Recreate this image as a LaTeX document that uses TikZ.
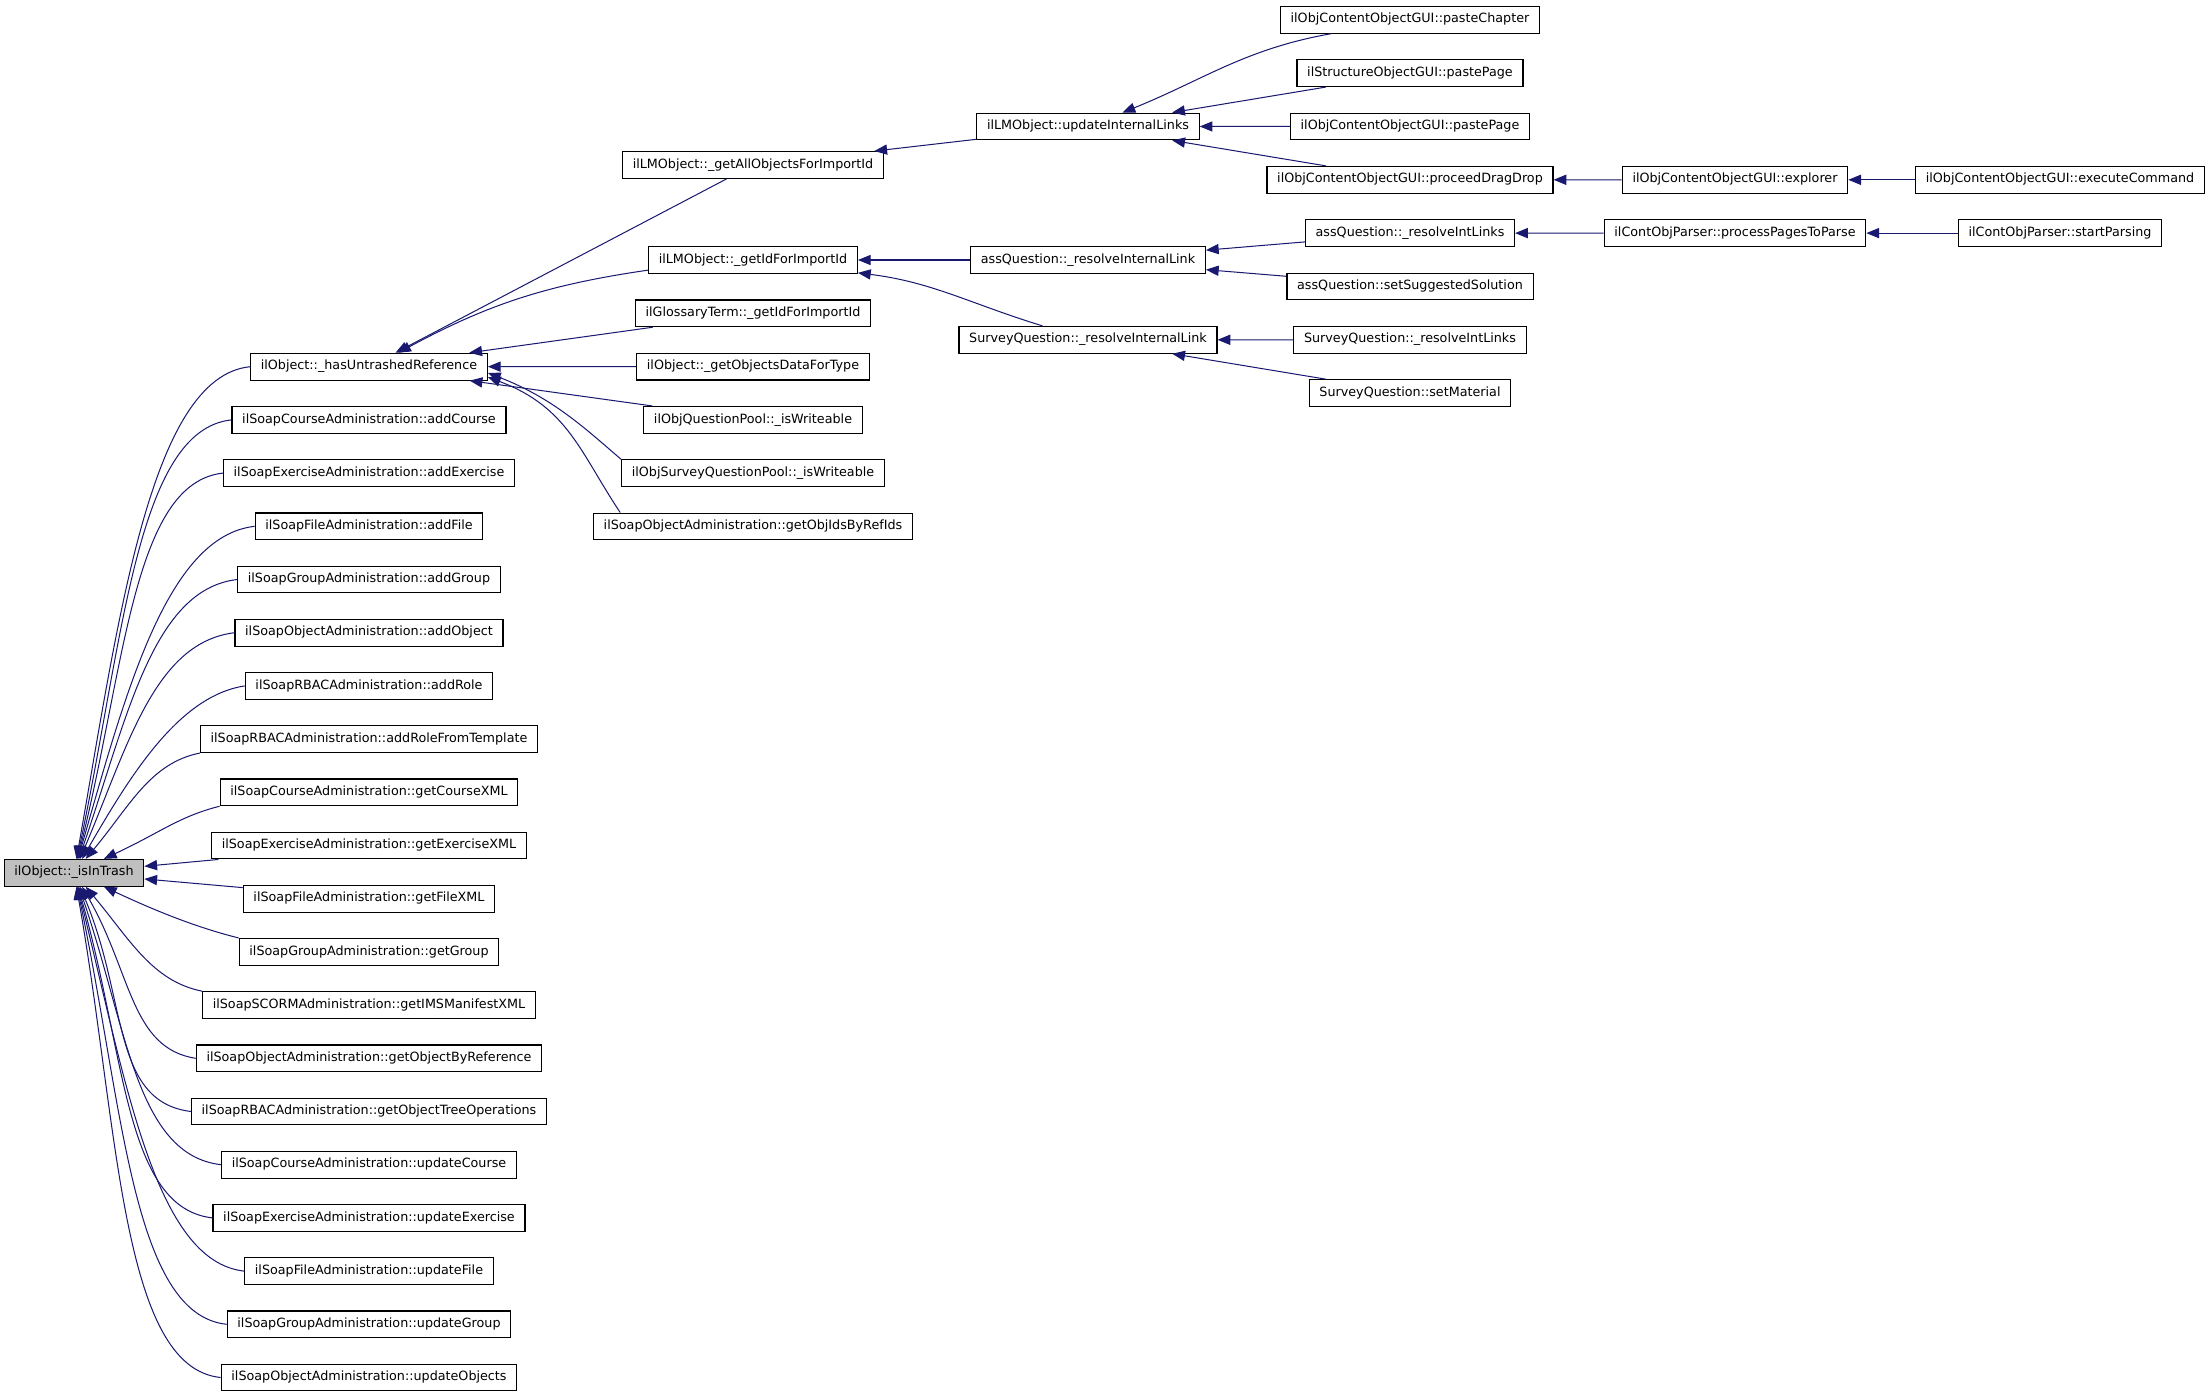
\documentclass[tikz,border=0pt]{standalone}
\usepackage{fontspec}
\setmainfont{DejaVu Sans}
\usetikzlibrary{arrows.meta}
\definecolor{edgeblue}{HTML}{191970}
\definecolor{focusgray}{HTML}{BFBFBF}
\tikzset{
  func/.style={draw, line width=0.9pt, minimum height=21pt, inner xsep=8pt, inner ysep=0pt,
    text height=7.3pt, text depth=2.3pt, font=\fontsize{10}{12}\selectfont},
  focus/.style={func, fill=focusgray},
  calls/.style={draw=edgeblue, line width=0.8pt, -{Triangle[length=10pt,width=8pt]}}
}
\begin{document}
\begin{tikzpicture}[x=0.785pt, y=-0.785pt]
\useasboundingbox (0,0) rectangle (2211,1400);
% the function itself
\node[focus] (isInTrash) at (74,872.8) {ilObject::\_isInTrash};
% direct callers
\node[func] (hasUntrashed) at (369,366.7) {ilObject::\_hasUntrashedReference};
\foreach \n/\t [count=\i] in {addCourse/ilSoapCourseAdministration::addCourse,
    addExercise/ilSoapExerciseAdministration::addExercise,
    addFile/ilSoapFileAdministration::addFile,
    addGroup/ilSoapGroupAdministration::addGroup,
    addObject/ilSoapObjectAdministration::addObject,
    addRole/ilSoapRBACAdministration::addRole,
    addRoleTpl/ilSoapRBACAdministration::addRoleFromTemplate,
    getCourseXML/ilSoapCourseAdministration::getCourseXML,
    getExerciseXML/ilSoapExerciseAdministration::getExerciseXML,
    getFileXML/ilSoapFileAdministration::getFileXML,
    getGroup/ilSoapGroupAdministration::getGroup,
    getManifest/ilSoapSCORMAdministration::getIMSManifestXML,
    getObjByRef/ilSoapObjectAdministration::getObjectByReference,
    getTreeOps/ilSoapRBACAdministration::getObjectTreeOperations,
    updateCourse/ilSoapCourseAdministration::updateCourse,
    updateExercise/ilSoapExerciseAdministration::updateExercise,
    updateFile/ilSoapFileAdministration::updateFile,
    updateGroup/ilSoapGroupAdministration::updateGroup,
    updateObjects/ilSoapObjectAdministration::updateObjects}
  \node[func] (\n) at (369,{366.7+53.2*\i}) {\t};
% callers of _hasUntrashedReference
\node[func] (getAllObjects) at (753,165) {ilLMObject::\_getAllObjectsForImportId};
\foreach \n/\t [count=\i from 0] in {getIdImport/ilLMObject::\_getIdForImportId,
    glossaryId/ilGlossaryTerm::\_getIdForImportId,
    objectsData/ilObject::\_getObjectsDataForType,
    poolWriteable/ilObjQuestionPool::\_isWriteable,
    surveyPoolWriteable/ilObjSurveyQuestionPool::\_isWriteable,
    objIdsByRefIds/ilSoapObjectAdministration::getObjIdsByRefIds}
  \node[func] (\n) at (753,{260+53.3*\i}) {\t};
% third level
\node[func] (updateLinks) at (1088,126.5) {ilLMObject::updateInternalLinks};
\node[func] (assLink) at (1088,260) {assQuestion::\_resolveInternalLink};
\node[func] (surveyLink) at (1088,339.8) {SurveyQuestion::\_resolveInternalLink};
% fourth level
\foreach \n/\t [count=\i from 0] in {pasteChapter/ilObjContentObjectGUI::pasteChapter,
    structPaste/ilStructureObjectGUI::pastePage,
    contentPaste/ilObjContentObjectGUI::pastePage,
    dragDrop/ilObjContentObjectGUI::proceedDragDrop,
    assIntLinks/assQuestion::\_resolveIntLinks,
    suggested/assQuestion::setSuggestedSolution,
    surveyIntLinks/SurveyQuestion::\_resolveIntLinks,
    setMaterial/SurveyQuestion::setMaterial}
  \node[func] (\n) at (1410,{19.8+53.33*\i}) {\t};
\node[func] (explorer) at (1735,179.8) {ilObjContentObjectGUI::explorer};
\node[func] (processPages) at (1735,233.1) {ilContObjParser::processPagesToParse};
\node[func] (executeCommand) at (2060,179.8) {ilObjContentObjectGUI::executeCommand};
\node[func] (startParsing) at (2060,233.1) {ilContObjParser::startParsing};

% edges into _isInTrash
\foreach \n/\s/\c/\a/\h in {hasUntrashed/west/-100/80/240, addCourse/west/-95/78/218,
    addExercise/west/-90/76/193, addFile/west/-88/74/166, addGroup/west/-85/71/140,
    addObject/west/-80/67/113, addRole/west/-65/60/86, addRoleTpl/south west/-50/50/52,
    getCourseXML/south west/-40/25/26}
  \draw[calls] (\n.\s) .. controls +(\c,10) and +({\h*cot(\a)},-\h) .. (isInTrash.\a);
\draw[calls] (getExerciseXML) -- (isInTrash);
\draw[calls] (getFileXML) -- (isInTrash);
\foreach \n/\s/\c/\a/\h in {getGroup/north west/-40/-25/26, getManifest/north west/-50/-50/52,
    getObjByRef/west/-65/-60/86, getTreeOps/west/-80/-67/113, updateCourse/west/-85/-71/140,
    updateExercise/west/-88/-74/166, updateFile/west/-90/-76/193, updateGroup/west/-95/-78/218,
    updateObjects/west/-100/-80/240}
  \draw[calls] (\n.\s) .. controls +(\c,-10) and +({-\h*cot(\a)},\h) .. (isInTrash.\a);

% edges into _hasUntrashedReference
\draw[calls] (getAllObjects) -- (hasUntrashed);
\draw[calls] (getIdImport) to[bend right=10] (hasUntrashed);
\draw[calls] (glossaryId) -- (hasUntrashed);
\draw[calls] (objectsData) -- (hasUntrashed);
\draw[calls] (poolWriteable) -- (hasUntrashed);
\draw[calls] (surveyPoolWriteable.north west) .. controls +(-35,-30) and +(65,25) .. (hasUntrashed.-3);
\draw[calls] (objIdsByRefIds.174.5) .. controls +(-40,-60) and +(80,30) .. (hasUntrashed.-5);

% deeper levels
\draw[calls] (updateLinks) -- (getAllObjects);
\draw[calls] (assLink) -- (getIdImport);
\draw[calls] (surveyLink) to[out=163, in=-7] (getIdImport);
\draw[calls] (pasteChapter) to[out=190, in=22] (updateLinks);
\draw[calls] (structPaste) -- (updateLinks);
\draw[calls] (contentPaste) -- (updateLinks);
\draw[calls] (dragDrop) -- (updateLinks);
\draw[calls] (assIntLinks) -- (assLink);
\draw[calls] (suggested) -- (assLink);
\draw[calls] (surveyIntLinks) -- (surveyLink);
\draw[calls] (setMaterial) -- (surveyLink);
\draw[calls] (explorer) -- (dragDrop);
\draw[calls] (executeCommand) -- (explorer);
\draw[calls] (processPages) -- (assIntLinks);
\draw[calls] (startParsing) -- (processPages);
\end{tikzpicture}
\end{document}
